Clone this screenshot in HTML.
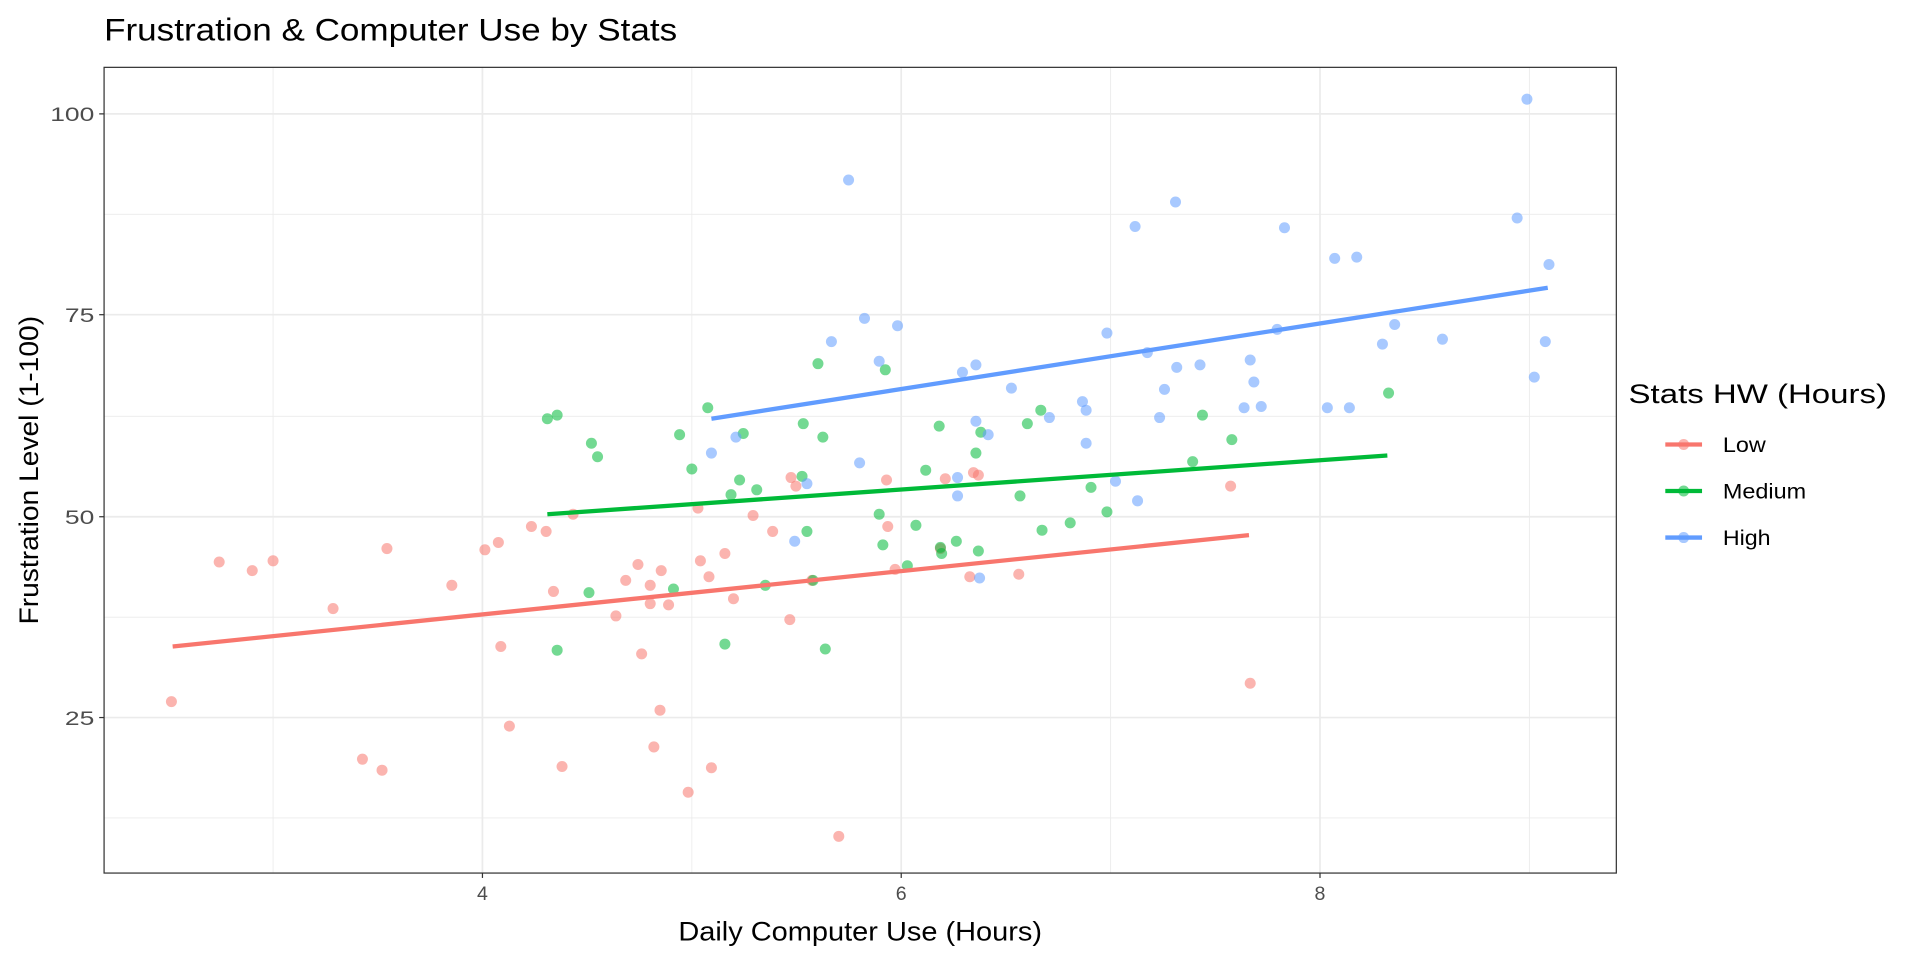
<!DOCTYPE html>
<html><head><style>html,body{margin:0;padding:0;background:#fff}svg{display:block}</style></head><body>
<svg width="1920" height="960" viewBox="0 0 1568 784" preserveAspectRatio="none" xmlns="http://www.w3.org/2000/svg" font-family="Liberation Sans, sans-serif">
<rect width="1568" height="784" fill="#fff"/>
<g stroke="#ebebeb" stroke-width="0.7">
<line x1="223" y1="55" x2="223" y2="713"/><line x1="565" y1="55" x2="565" y2="713"/><line x1="907" y1="55" x2="907" y2="713"/><line x1="1249" y1="55" x2="1249" y2="713"/>
<line x1="85" y1="175" x2="1320" y2="175"/><line x1="85" y1="340" x2="1320" y2="340"/><line x1="85" y1="504" x2="1320" y2="504"/><line x1="85" y1="668" x2="1320" y2="668"/>
</g>
<g stroke="#ebebeb" stroke-width="1.4">
<line x1="394" y1="55" x2="394" y2="713"/><line x1="736" y1="55" x2="736" y2="713"/><line x1="1078" y1="55" x2="1078" y2="713"/>
<line x1="85" y1="93" x2="1320" y2="93"/><line x1="85" y1="257" x2="1320" y2="257"/><line x1="85" y1="422" x2="1320" y2="422"/><line x1="85" y1="586" x2="1320" y2="586"/>
</g>
<g fill="#F8766D" fill-opacity="0.55">
<circle cx="140" cy="573" r="4.5"/><circle cx="179" cy="459" r="4.5"/><circle cx="206" cy="466" r="4.5"/><circle cx="223" cy="458" r="4.5"/><circle cx="272" cy="497" r="4.5"/><circle cx="296" cy="620" r="4.5"/><circle cx="312" cy="629" r="4.5"/><circle cx="316" cy="448" r="4.5"/><circle cx="369" cy="478" r="4.5"/><circle cx="396" cy="449" r="4.5"/><circle cx="407" cy="443" r="4.5"/><circle cx="409" cy="528" r="4.5"/><circle cx="416" cy="593" r="4.5"/><circle cx="434" cy="430" r="4.5"/><circle cx="446" cy="434" r="4.5"/><circle cx="452" cy="483" r="4.5"/><circle cx="459" cy="626" r="4.5"/><circle cx="468" cy="420" r="4.5"/><circle cx="503" cy="503" r="4.5"/><circle cx="511" cy="474" r="4.5"/><circle cx="521" cy="461" r="4.5"/><circle cx="524" cy="534" r="4.5"/><circle cx="531" cy="478" r="4.5"/><circle cx="531" cy="493" r="4.5"/><circle cx="534" cy="610" r="4.5"/><circle cx="539" cy="580" r="4.5"/><circle cx="540" cy="466" r="4.5"/><circle cx="546" cy="494" r="4.5"/><circle cx="562" cy="647" r="4.5"/><circle cx="570" cy="415" r="4.5"/><circle cx="572" cy="458" r="4.5"/><circle cx="579" cy="471" r="4.5"/><circle cx="581" cy="627" r="4.5"/><circle cx="592" cy="452" r="4.5"/><circle cx="599" cy="489" r="4.5"/><circle cx="615" cy="421" r="4.5"/><circle cx="631" cy="434" r="4.5"/><circle cx="646" cy="390" r="4.5"/><circle cx="645" cy="506" r="4.5"/><circle cx="650" cy="397" r="4.5"/><circle cx="663" cy="474" r="4.5"/><circle cx="685" cy="683" r="4.5"/><circle cx="724" cy="392" r="4.5"/><circle cx="725" cy="430" r="4.5"/><circle cx="731" cy="465" r="4.5"/><circle cx="768" cy="448" r="4.5"/><circle cx="772" cy="391" r="4.5"/><circle cx="792" cy="471" r="4.5"/><circle cx="795" cy="386" r="4.5"/><circle cx="799" cy="388" r="4.5"/><circle cx="832" cy="469" r="4.5"/><circle cx="1005" cy="397" r="4.5"/><circle cx="1021" cy="558" r="4.5"/>
</g>
<g fill="#00BA38" fill-opacity="0.55">
<circle cx="447" cy="342" r="4.5"/><circle cx="455" cy="339" r="4.5"/><circle cx="455" cy="531" r="4.5"/><circle cx="481" cy="484" r="4.5"/><circle cx="483" cy="362" r="4.5"/><circle cx="488" cy="373" r="4.5"/><circle cx="550" cy="481" r="4.5"/><circle cx="555" cy="355" r="4.5"/><circle cx="565" cy="383" r="4.5"/><circle cx="578" cy="333" r="4.5"/><circle cx="592" cy="526" r="4.5"/><circle cx="597" cy="404" r="4.5"/><circle cx="604" cy="392" r="4.5"/><circle cx="607" cy="354" r="4.5"/><circle cx="618" cy="400" r="4.5"/><circle cx="625" cy="478" r="4.5"/><circle cx="656" cy="346" r="4.5"/><circle cx="655" cy="389" r="4.5"/><circle cx="659" cy="434" r="4.5"/><circle cx="664" cy="474" r="4.5"/><circle cx="668" cy="297" r="4.5"/><circle cx="672" cy="357" r="4.5"/><circle cx="674" cy="530" r="4.5"/><circle cx="718" cy="420" r="4.5"/><circle cx="721" cy="445" r="4.5"/><circle cx="723" cy="302" r="4.5"/><circle cx="741" cy="462" r="4.5"/><circle cx="748" cy="429" r="4.5"/><circle cx="756" cy="384" r="4.5"/><circle cx="767" cy="348" r="4.5"/><circle cx="768" cy="447" r="4.5"/><circle cx="769" cy="452" r="4.5"/><circle cx="781" cy="442" r="4.5"/><circle cx="797" cy="370" r="4.5"/><circle cx="799" cy="450" r="4.5"/><circle cx="801" cy="353" r="4.5"/><circle cx="833" cy="405" r="4.5"/><circle cx="839" cy="346" r="4.5"/><circle cx="850" cy="335" r="4.5"/><circle cx="851" cy="433" r="4.5"/><circle cx="874" cy="427" r="4.5"/><circle cx="891" cy="398" r="4.5"/><circle cx="904" cy="418" r="4.5"/><circle cx="974" cy="377" r="4.5"/><circle cx="982" cy="339" r="4.5"/><circle cx="1006" cy="359" r="4.5"/><circle cx="1134" cy="321" r="4.5"/>
</g>
<g fill="#619CFF" fill-opacity="0.55">
<circle cx="693" cy="147" r="4.5"/><circle cx="706" cy="260" r="4.5"/><circle cx="733" cy="266" r="4.5"/><circle cx="679" cy="279" r="4.5"/><circle cx="718" cy="295" r="4.5"/><circle cx="786" cy="304" r="4.5"/><circle cx="797" cy="298" r="4.5"/><circle cx="581" cy="370" r="4.5"/><circle cx="601" cy="357" r="4.5"/><circle cx="702" cy="378" r="4.5"/><circle cx="649" cy="442" r="4.5"/><circle cx="659" cy="395" r="4.5"/><circle cx="782" cy="390" r="4.5"/><circle cx="782" cy="405" r="4.5"/><circle cx="797" cy="344" r="4.5"/><circle cx="800" cy="472" r="4.5"/><circle cx="807" cy="355" r="4.5"/><circle cx="826" cy="317" r="4.5"/><circle cx="857" cy="341" r="4.5"/><circle cx="884" cy="328" r="4.5"/><circle cx="887" cy="335" r="4.5"/><circle cx="887" cy="362" r="4.5"/><circle cx="904" cy="272" r="4.5"/><circle cx="911" cy="393" r="4.5"/><circle cx="927" cy="185" r="4.5"/><circle cx="929" cy="409" r="4.5"/><circle cx="937" cy="288" r="4.5"/><circle cx="947" cy="341" r="4.5"/><circle cx="951" cy="318" r="4.5"/><circle cx="960" cy="165" r="4.5"/><circle cx="961" cy="300" r="4.5"/><circle cx="980" cy="298" r="4.5"/><circle cx="1016" cy="333" r="4.5"/><circle cx="1021" cy="294" r="4.5"/><circle cx="1024" cy="312" r="4.5"/><circle cx="1030" cy="332" r="4.5"/><circle cx="1043" cy="269" r="4.5"/><circle cx="1049" cy="186" r="4.5"/><circle cx="1084" cy="333" r="4.5"/><circle cx="1090" cy="211" r="4.5"/><circle cx="1102" cy="333" r="4.5"/><circle cx="1108" cy="210" r="4.5"/><circle cx="1129" cy="281" r="4.5"/><circle cx="1139" cy="265" r="4.5"/><circle cx="1178" cy="277" r="4.5"/><circle cx="1239" cy="178" r="4.5"/><circle cx="1247" cy="81" r="4.5"/><circle cx="1253" cy="308" r="4.5"/><circle cx="1262" cy="279" r="4.5"/><circle cx="1265" cy="216" r="4.5"/>
</g>
<g stroke-width="3.5" stroke-linecap="butt">
<line x1="141" y1="528" x2="1020" y2="437" stroke="#F8766D"/>
<line x1="447" y1="420" x2="1133" y2="372" stroke="#00BA38"/>
<line x1="581" y1="342" x2="1264" y2="235" stroke="#619CFF"/>
</g>
<rect x="85" y="55" width="1235" height="658" fill="none" stroke="#333" stroke-width="1"/>
<g stroke="#333" stroke-width="1">
<line x1="81" y1="93" x2="85" y2="93"/><line x1="81" y1="257" x2="85" y2="257"/><line x1="81" y1="422" x2="85" y2="422"/><line x1="81" y1="586" x2="85" y2="586"/>
<line x1="394" y1="713" x2="394" y2="717"/><line x1="736" y1="713" x2="736" y2="717"/><line x1="1078" y1="713" x2="1078" y2="717"/>
</g>
<g fill="#4d4d4d" font-size="16" text-anchor="end" lengthAdjust="spacingAndGlyphs">
<text x="77" y="99" textLength="36" lengthAdjust="spacingAndGlyphs">100</text><text x="77" y="263" textLength="24" lengthAdjust="spacingAndGlyphs">75</text><text x="77" y="428" textLength="24" lengthAdjust="spacingAndGlyphs">50</text><text x="77" y="592" textLength="24" lengthAdjust="spacingAndGlyphs">25</text>
</g>
<g fill="#4d4d4d" font-size="16" text-anchor="middle">
<text x="394" y="735">4</text><text x="736" y="735">6</text><text x="1078" y="735">8</text>
</g>
<text x="554" y="768" font-size="22" textLength="297" lengthAdjust="spacingAndGlyphs">Daily Computer Use (Hours)</text>
<text transform="translate(31,510) rotate(-90)" font-size="22" textLength="252" lengthAdjust="spacingAndGlyphs">Frustration Level (1-100)</text>
<text x="85" y="33" font-size="26" textLength="468" lengthAdjust="spacingAndGlyphs">Frustration &amp; Computer Use by Stats</text>
<text x="1330" y="329" font-size="22" textLength="211" lengthAdjust="spacingAndGlyphs">Stats HW (Hours)</text>
<g stroke-width="3.5">
<line x1="1360" y1="363" x2="1390" y2="363" stroke="#F8766D"/>
<line x1="1360" y1="401" x2="1390" y2="401" stroke="#00BA38"/>
<line x1="1360" y1="439" x2="1390" y2="439" stroke="#619CFF"/>
</g>
<circle cx="1375" cy="363" r="4.5" fill="#F8766D" fill-opacity="0.55"/>
<circle cx="1375" cy="401" r="4.5" fill="#00BA38" fill-opacity="0.55"/>
<circle cx="1375" cy="439" r="4.5" fill="#619CFF" fill-opacity="0.55"/>
<g font-size="17">
<text x="1407" y="369" textLength="35" lengthAdjust="spacingAndGlyphs">Low</text><text x="1407" y="407" textLength="68" lengthAdjust="spacingAndGlyphs">Medium</text><text x="1407" y="445" textLength="39" lengthAdjust="spacingAndGlyphs">High</text>
</g>
</svg>
</body></html>
